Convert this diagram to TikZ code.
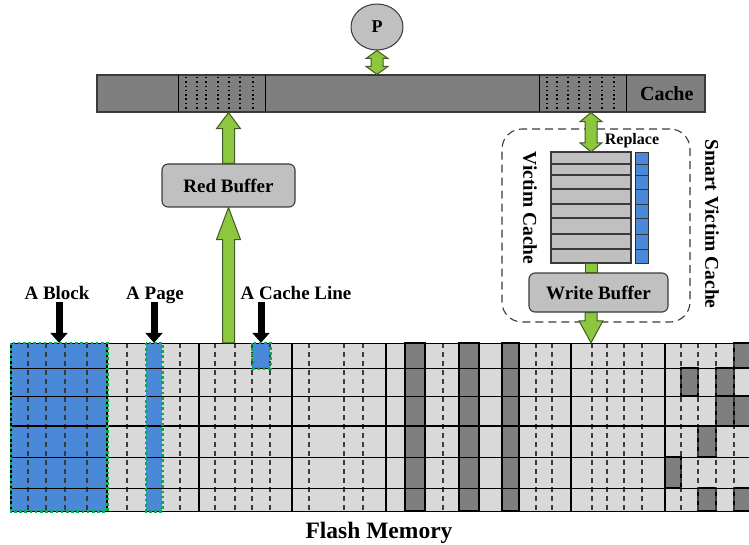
\documentclass[tikz,border=0pt]{standalone}
\usepackage{fontspec}
\setmainfont{Liberation Serif}
\usetikzlibrary{arrows.meta,calc,positioning,shapes.geometric}
\newcommand{\fmsize}[1]{\bfseries\fontsize{#1}{#1}\selectfont}
\definecolor{FMCell}{HTML}{D9D9D9}
\definecolor{FMDark}{HTML}{7F7F7F}
\definecolor{FMBox}{HTML}{C0C0C0}
\definecolor{FMLine}{HTML}{3A3A3A}
\definecolor{FMBlue}{HTML}{4A88D8}
\definecolor{FMGreen}{HTML}{8DC63F}
\definecolor{FMGreenEdge}{HTML}{3E5C22}
\definecolor{FMSel}{HTML}{00B050}
\tikzset{
  fmText/.style={font=\fmsize{19}, inner sep=1pt, text=black},
  fmBox/.style={
    rectangle, rounded corners=6pt, draw=FMLine, fill=FMBox,
    line width=1.1pt, align=center, inner sep=2pt, font=\fmsize{19}
  },
  fmBar/.style={rectangle, draw=FMLine, fill=FMDark, line width=1.2pt, inner sep=0pt},
  fmProc/.style={
    ellipse, draw=FMLine, fill=FMBox, line width=1pt,
    minimum width=52pt, minimum height=46pt, inner sep=0pt, font=\fmsize{18}
  },
  fmFrame/.style={
    rectangle, rounded corners=20pt, draw=FMLine, line width=1.1pt,
    dash pattern=on 8pt off 5pt, inner sep=0pt
  },
  fmCell/.style={rectangle, fill=FMBlue, inner sep=0pt},
  fmFat/.style={draw=FMGreenEdge, fill=FMGreen, line width=1pt, line join=miter},
  fmPoint/.style={-{Triangle[length=10pt,width=17pt]}, draw=black, line width=7pt},
  fmRow/.style={draw=black, line width=1pt},
  fmMid/.style={draw=black, line width=2pt},
  fmBlock/.style={draw=black, line width=1.6pt},
  fmPage/.style={draw=FMLine, line width=1.2pt, dash pattern=on 5pt off 4pt},
  fmDot/.style={draw=black, line width=1.5pt, dash pattern=on 1.5pt off 2.8pt},
  fmSel/.style={draw=FMSel, line width=2.6pt, dash pattern=on 2.6pt off 2.6pt},
  fmInvalid/.style={draw=black, fill=FMDark, line width=1.2pt},
  fmSlot/.style={draw=FMLine, fill=FMBox, line width=1.1pt},
  fmBit/.style={draw=black!80, fill=FMBlue, line width=0.9pt}
}
% fat arrows: x is taken from the first point
\newcommand{\fatUp}[3][16pt]{%
  \draw[fmFat] let \p1=(#2), \p2=(#3) in
    (\x1-6pt,\y1) -- (\x1-6pt,\y2-#1) -- (\x1-12pt,\y2-#1) -- (\x1,\y2)
    -- (\x1+12pt,\y2-#1) -- (\x1+6pt,\y2-#1) -- (\x1+6pt,\y1) -- cycle;}
\newcommand{\fatDown}[3][16pt]{%
  \draw[fmFat] let \p1=(#2), \p2=(#3) in
    (\x1-6pt,\y1) -- (\x1-6pt,\y2+#1) -- (\x1-12pt,\y2+#1) -- (\x1,\y2)
    -- (\x1+12pt,\y2+#1) -- (\x1+6pt,\y2+#1) -- (\x1+6pt,\y1) -- cycle;}
\newcommand{\fatDbl}[3][9pt]{%
  \draw[fmFat] let \p1=(#2), \p2=(#3) in
    (\x1,\y1) -- (\x1+11pt,\y1-#1) -- (\x1+6pt,\y1-#1) -- (\x1+6pt,\y2+#1)
    -- (\x1+11pt,\y2+#1) -- (\x1,\y2) -- (\x1-11pt,\y2+#1) -- (\x1-6pt,\y2+#1)
    -- (\x1-6pt,\y1-#1) -- (\x1-11pt,\y1-#1) -- cycle;}
\begin{document}
\begin{tikzpicture}[x=1pt, y=-1pt]
  \useasboundingbox (0,0) rectangle (749,545);

  \fill[FMCell] (11,343) rectangle (749,511);
  \node[fmCell, minimum width=96pt, minimum height=168pt] (blk) at (59,427) {};
  \node[fmCell, minimum width=16pt, minimum height=168pt] (pg) at (154,427) {};
  \node[fmCell, minimum width=18pt, minimum height=25pt] (cl) at (261,355.5) {};
  \foreach \a/\b in {405/425,459/479,502/519}
    \draw[fmInvalid] (\a,343) rectangle (\b,511);
  \foreach \a/\b/\t/\u in {734/751/343/368, 681/698/368/396, 716/734/368/396,
      716/734/396/426, 734/751/396/426, 698/716/426/457, 665/681/457/488,
      698/716/488/511, 734/751/488/511}
    \draw[fmInvalid] (\a,\t) rectangle (\b,\u);
  \foreach \x in {28,46,65,87,127,180,215,235,252,270,309,344,363,443,536,552,
      592,607,624,642,681,698,716,734}
    \draw[fmPage] (\x,343) -- (\x,511);
  \foreach \y in {343,368,396,457,488,511}
    \draw[fmRow] (11,\y) -- (749,\y);
  \draw[fmMid] (11,426) -- (749,426);
  \foreach \x in {11,107,199,292,386,479,571,665}
    \draw[fmBlock] (\x,343) -- (\x,511);
  \foreach \n in {blk,pg,cl}
    \draw[fmSel] (\n.north west) rectangle (\n.south east);

  \node[fmText, anchor=base] (lblblock) at (57,299) {A Block};
  \node[fmText, anchor=base] (lblpage) at (155,299) {A Page};
  \node[fmText, anchor=base] (lblline) at (296,299) {A Cache Line};
  \node[fmText, font=\fmsize{23.5}, anchor=base] (title) at (379,538) {Flash Memory};
  \draw[fmPoint] ($(lblblock.base -| blk.north)+(0,3)$) -- (blk.north);
  \draw[fmPoint] ($(lblpage.base -| pg.north)+(0,3)$) -- (pg.north);
  \draw[fmPoint] ($(lblline.base -| cl.north)+(0,3)$) -- (cl.north);

  \node[fmProc] (P) at (377,27) {P};
  \node[fmBar, minimum width=608pt, minimum height=37pt] (cache) at (401,93.5) {};
  \foreach \x in {178,265,539,626}
    \draw[fmRow] (\x,75) -- (\x,112);
  \foreach \x in {186,197,206,218,229,240,253,547,557,568,579,590,602,614}
    \draw[fmDot] (\x,77) -- (\x,111);
  \node[fmText, font=\fmsize{20}, left=11pt of cache.east] (cachelbl) {Cache};

  \node[fmBox, minimum width=133pt, minimum height=43pt] (redbuf) at (228.5,185.5) {Red Buffer};

  \node[fmFrame, minimum width=188pt, minimum height=193pt] (svc) at (596,225.5) {};
  \node[inner sep=0pt, minimum width=80pt, minimum height=111pt] (vc) at (591,207.5) {};
  \foreach \t/\u in {152/164,164/175,175/189,189/204,204/218,218/234,234/249,249/263} {
    \draw[fmSlot] (551,\t) rectangle (631,\u);
    \draw[fmBit] (635,\t) rectangle (648,\u);
  }
  \node[fmBox, minimum width=139pt, minimum height=39pt] (wbuf) at (598.5,292.5) {Write Buffer};
  \node[fmText, font=\fmsize{16}] (replace) at (632,141) {Replace};
  \node[fmText, font=\fmsize{19.5}, rotate=-90] (vclbl) at (530,208) {Victim Cache};
  \node[fmText, font=\fmsize{19.5}, rotate=-90] (svclbl) at (712,224) {Smart Victim Cache};

  \fatDbl[8pt]{P.south}{cache.north}
  \fatUp[16pt]{redbuf.north}{cache.south}
  \fatUp[32pt]{redbuf.south |- cl.north}{redbuf.south}
  \fatDbl[9pt]{cache.south -| vc.north}{vc.north}
  \draw[fmFat] let \p1=(vc.south), \p2=(wbuf.north) in
    (\x1-6pt,\y1) rectangle (\x1+6pt,\y2);
  \fatDown[22pt]{wbuf.south -| vc.south}{vc.south |- cl.north}
\end{tikzpicture}
\end{document}
